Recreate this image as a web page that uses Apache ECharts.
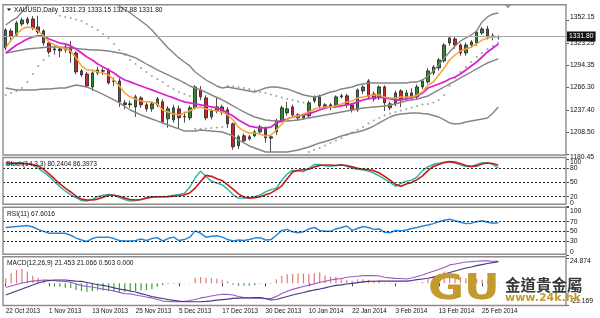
<!DOCTYPE html>
<html><head><meta charset="utf-8">
<script src="https://cdn.jsdelivr.net/npm/echarts@6/dist/echarts.min.js"></script>
<style>html,body{margin:0;padding:0;background:#fff}#c{width:600px;height:318px}</style>
</head><body><div id="c"></div>
<script>
const dates = ['22 Oct 2013','23 Oct 2013','24 Oct 2013','25 Oct 2013','28 Oct 2013','29 Oct 2013','30 Oct 2013','31 Oct 2013',
'1 Nov 2013','4 Nov 2013','5 Nov 2013','6 Nov 2013','7 Nov 2013','8 Nov 2013','11 Nov 2013','12 Nov 2013',
'13 Nov 2013','14 Nov 2013','15 Nov 2013','18 Nov 2013','19 Nov 2013','20 Nov 2013','21 Nov 2013','22 Nov 2013',
'25 Nov 2013','26 Nov 2013','27 Nov 2013','28 Nov 2013','29 Nov 2013','2 Dec 2013','3 Dec 2013','4 Dec 2013',
'5 Dec 2013','6 Dec 2013','9 Dec 2013','10 Dec 2013','11 Dec 2013','12 Dec 2013','13 Dec 2013','16 Dec 2013',
'17 Dec 2013','18 Dec 2013','19 Dec 2013','20 Dec 2013','23 Dec 2013','24 Dec 2013','26 Dec 2013','27 Dec 2013',
'30 Dec 2013','31 Dec 2013','2 Jan 2014','3 Jan 2014','6 Jan 2014','7 Jan 2014','8 Jan 2014','9 Jan 2014',
'10 Jan 2014','13 Jan 2014','14 Jan 2014','15 Jan 2014','16 Jan 2014','17 Jan 2014','20 Jan 2014','21 Jan 2014',
'22 Jan 2014','23 Jan 2014','24 Jan 2014','27 Jan 2014','28 Jan 2014','29 Jan 2014','30 Jan 2014','31 Jan 2014',
'3 Feb 2014','4 Feb 2014','5 Feb 2014','6 Feb 2014','7 Feb 2014','10 Feb 2014','11 Feb 2014','12 Feb 2014',
'13 Feb 2014','14 Feb 2014','17 Feb 2014','18 Feb 2014','19 Feb 2014','20 Feb 2014','21 Feb 2014','24 Feb 2014',
'25 Feb 2014','26 Feb 2014','27 Feb 2014','28 Feb 2014'];

const opens = [1317.1,1338.9,1333.8,1347.9,1349.2,1354.3,1344.1,1338.9,
1323.5,1314.5,1315.8,1314.5,1318.4,1310.6,1287.5,1283.6,
1266.9,1284.9,1288.0,1288.8,1274.0,1274.6,1246.4,1244.0,
1241.2,1252.8,1243.8,1238.7,1243.8,1247.7,1225.8,1224.5,
1238.7,1229.0,1227.1,1240.0,1263.1,1252.8,1228.4,1236.1,
1241.2,1237.4,1219.4,1191.1,1204.0,1200.1,1204.0,1209.1,
1214.3,1201.0,1209.1,1223.3,1233.5,1241.2,1231.0,1227.1,
1229.7,1248.9,1254.1,1243.8,1241.2,1242.5,1254.1,1255.4,
1243.8,1237.4,1261.8,1274.6,1257.9,1252.8,1266.9,1245.1,
1245.1,1261.8,1252.8,1259.2,1254.1,1266.9,1273.4,1284.9,
1291.4,1300.4,1323.5,1328.6,1320.9,1310.6,1320.9,1323.5,
1336.3,1341.5,1332.5,1331.23];
const closes = [1340.2,1332.5,1349.2,1353.0,1354.3,1342.8,1337.6,1323.5,
1311.9,1315.8,1313.5,1318.4,1310.6,1286.2,1282.4,1268.2,
1284.9,1288.8,1287.2,1272.1,1274.6,1247.7,1244.0,1245.1,
1254.1,1243.8,1238.7,1245.1,1251.5,1222.0,1238.7,1240.0,
1227.1,1228.4,1240.0,1266.9,1254.1,1227.1,1236.1,1241.2,
1234.8,1219.4,1189.9,1202.7,1197.6,1202.7,1209.1,1215.5,
1201.4,1202.7,1223.3,1240.0,1238.7,1231.0,1227.1,1231.0,
1246.4,1254.1,1242.5,1241.2,1243.8,1254.1,1255.4,1243.8,
1237.4,1263.1,1266.9,1254.1,1251.5,1266.9,1246.4,1240.0,
1259.2,1250.2,1259.2,1252.8,1266.9,1274.6,1287.5,1292.6,
1301.7,1320.9,1329.9,1320.9,1310.6,1320.9,1324.8,1337.6,
1341.5,1331.2,1331.8,1331.80];
const lows = [1314,1325,1331,1345,1347,1340,1335,1320,
1309,1310,1305,1311,1297.8,1283,1280,1266,
1262,1282,1282,1270,1268,1241.2,1238,1240,
1228.4,1240,1235,1235,1241,1219.4,1214.3,1221,
1213,1221,1224,1238,1250,1224,1225,1233,
1231,1214,1186,1187,1195,1198,1202,1207,
1195,1183.4,1205,1221,1230,1228,1224,1225,
1227,1246,1239,1238,1237,1240,1252,1240,
1234,1235,1258,1251,1248,1250,1236,1237,
1242,1241,1249,1250,1251,1264,1271,1282,
1288,1298,1320,1316,1307,1307,1317,1320,
1334,1328,1327,1327.88];
const highs = [1342.5,1342,1352,1356,1357,1358,1358.5,1341,
1325,1320,1318,1321,1326,1313,1290,1286,
1287,1293,1291,1291,1279,1278,1250,1249,
1257,1255,1247,1248,1254,1251,1242,1244,
1243,1235,1243,1269,1268,1256,1239,1252.8,
1244,1241,1221,1205,1207,1205,1212,1218,
1216,1205,1226,1243,1247.7,1244,1233,1233,
1249,1256,1257,1246,1246,1256,1258,1258,
1246,1265,1269,1277,1261,1269,1269,1248,
1262,1264,1263,1265,1270,1277,1291,1295,
1304,1323,1332.5,1332,1323,1324,1327,1340,
1344,1345.3,1336,1333.15];

const maFast = [1317.0,1327.3,1335.0,1341.5,1344.0,1342.8,1338.9,1332.5,
1324.7,1320.9,1318.3,1315.7,1313.2,1304.2,1293.9,1288.7,
1288.7,1286.1,1284.8,1282.3,1275.8,1268.1,1259.1,1253.9,
1251.4,1248.9,1247.6,1247.6,1245.0,1237.2,1234.7,1232.1,
1230.8,1233.4,1235.9,1239.8,1241.1,1238.5,1237.2,1235.9,
1234.7,1230.8,1224.4,1215.3,1210.2,1207.6,1207.6,1206.3,
1203.8,1205.0,1211.5,1219.2,1225.6,1228.2,1229.5,1232.1,
1234.7,1238.5,1239.8,1241.1,1241.1,1242.4,1245.0,1247.6,
1248.9,1252.7,1253.9,1255.2,1256.5,1256.5,1253.9,1252.7,
1252.7,1253.9,1253.9,1253.9,1256.5,1260.4,1269.4,1273.3,
1282.3,1291.3,1301.6,1308.0,1313.2,1315.7,1318.3,1322.2,
1327.3,1329.9,1331.2,1331.2];
const maSlow = [1310.6,1315.7,1320.9,1324.7,1328.6,1331.2,1332.5,1332.5,
1328.6,1326.0,1323.4,1322.2,1319.6,1315.7,1310.6,1305.4,
1301.6,1296.4,1292.6,1288.7,1284.8,1279.7,1275.8,1273.3,
1270.7,1268.1,1265.5,1263.0,1260.4,1257.8,1255.2,1252.7,
1250.1,1247.6,1246.3,1245.0,1243.7,1242.4,1241.1,1239.8,
1237.2,1233.4,1229.5,1224.4,1220.5,1216.6,1215.3,1214.1,
1214.1,1215.3,1220.5,1223.1,1225.6,1228.2,1229.5,1230.8,
1232.1,1234.7,1237.2,1239.8,1241.1,1241.1,1242.4,1243.7,
1245.0,1247.6,1250.1,1251.4,1252.7,1253.9,1252.7,1251.4,
1250.1,1250.1,1251.4,1252.7,1255.2,1259.1,1265.5,1268.1,
1270.7,1273.3,1277.1,1279.7,1283.6,1288.7,1293.9,1299.0,
1305.4,1311.9,1317.0,1322.2];
const bbUpper = [1346.6,1351.8,1355.6,1363.3,1371.1,1376.2,1381.4,1383.9,
1385.2,1386.5,1386.5,1386.5,1386.5,1385.2,1383.9,1382.7,
1381.4,1380.1,1378.8,1377.5,1374.9,1371.1,1365.9,1362.1,
1356.9,1351.8,1346.6,1340.2,1332.5,1324.7,1317.0,1310.6,
1304.2,1299.0,1293.9,1286.1,1281.0,1275.8,1272.0,1268.1,
1265.5,1266.8,1265.5,1264.3,1263.0,1261.7,1260.4,1263.0,
1265.5,1266.8,1266.8,1265.5,1264.3,1261.7,1259.1,1256.5,
1255.2,1253.9,1255.2,1257.8,1260.4,1261.7,1264.3,1265.5,
1266.8,1269.4,1270.7,1272.0,1272.0,1272.0,1272.0,1272.0,
1272.0,1272.0,1272.0,1273.3,1273.3,1275.8,1281.0,1287.4,
1295.1,1304.2,1311.9,1319.6,1326.0,1329.9,1333.7,1338.9,
1350.5,1356.9,1360.8,1362.1];
const bbMiddle = [1310.6,1311.9,1313.2,1314.4,1315.7,1316.4,1317.0,1317.7,
1318.3,1318.3,1318.3,1317.7,1317.0,1316.4,1315.7,1315.1,
1314.4,1314.4,1313.8,1313.2,1311.9,1310.6,1309.3,1306.7,
1304.2,1300.3,1296.4,1292.6,1288.7,1285.5,1282.3,1279.0,
1275.8,1272.0,1268.1,1265.5,1263.0,1259.8,1256.5,1253.3,
1250.1,1246.3,1242.4,1238.5,1234.7,1231.4,1228.2,1226.3,
1224.4,1223.7,1223.1,1223.1,1223.1,1223.7,1224.4,1225.6,
1226.9,1228.2,1229.5,1230.8,1232.1,1233.4,1234.7,1235.9,
1237.2,1238.5,1239.8,1240.4,1241.1,1241.7,1242.4,1243.7,
1245.0,1246.9,1248.9,1250.1,1251.4,1253.3,1255.2,1259.1,
1263.0,1266.8,1270.7,1274.5,1278.4,1282.3,1286.1,1290.0,
1293.9,1297.7,1300.3,1302.9];
const bbLower = [1265.5,1264.3,1263.0,1263.0,1263.0,1263.0,1263.6,1264.3,
1264.3,1264.9,1265.5,1265.5,1267.5,1269.4,1268.1,1266.8,
1263.6,1260.4,1257.2,1253.9,1250.1,1246.3,1241.7,1237.2,
1234.0,1230.8,1228.2,1225.6,1223.1,1220.5,1217.9,1215.3,
1212.8,1210.2,1210.2,1210.2,1211.5,1210.8,1210.2,1209.6,
1208.9,1206.3,1203.8,1198.6,1194.8,1190.9,1188.3,1185.7,
1183.2,1183.2,1183.2,1183.2,1183.2,1184.5,1185.7,1187.7,
1189.6,1192.2,1194.8,1196.7,1198.6,1201.2,1203.8,1205.7,
1207.6,1208.9,1210.8,1213.4,1216.6,1220.5,1224.4,1228.2,
1230.8,1232.1,1232.7,1233.4,1233.4,1232.7,1232.1,1230.1,
1228.2,1224.4,1220.5,1219.2,1219.8,1221.8,1223.1,1224.4,
1225.6,1226.9,1233.4,1241.1];
const sar = [1256.5,1259.1,1261.7,1265.5,1273.3,1283.6,1293.9,1301.6,
1306.7,1309.3,1358.5,1356.9,1355.6,1353.7,1351.8,1347.9,
1344.0,1340.2,1335.0,1329.9,1322.2,1314.4,1308.0,1301.6,
1296.4,1291.3,1286.1,1281.0,1277.1,1273.3,1268.1,1264.3,
1260.4,1257.8,1255.2,1212.8,1212.8,1213.4,1214.1,1214.7,
1215.3,1268.1,1267.5,1266.8,1265.5,1264.3,1262.3,1260.4,
1259.1,1257.2,1255.2,1253.3,1251.4,1250.1,1248.2,1246.9,
1183.2,1185.7,1188.3,1191.5,1194.8,1198.0,1201.2,1205.0,
1208.3,1211.5,1215.3,1219.8,1223.7,1226.9,1230.1,1232.7,
1234.7,1236.6,1238.5,1240.4,1242.4,1244.3,1245.0,1246.9,
1250.1,1256.5,1268.1,1278.4,1286.1,1292.6,1299.0,1305.4,
1310.6,1315.7,1319.6,1323.4];

const stochMain = [87,89,90,90.5,90,87,80,72,63,52,41,32,24,18,12,11,
15,20,23,25,23,18,14,11,12,14,18,20,20,20,21,23,
25,27,40,60,74,62,53,49,45,36,24,17,17,18,20,24,
30,35,38,55,68,76,74,73,80,88,88,85,84,86,88,84,
80,78,77,74,70,64,57,50,42,48,53,55,62,75,83,88,
91,93,93,91,87,84,83,88,92,92,88,80.24];
const stochSignal = [91,91,90,90,89,88,85,78,68,58,47,38,30,21,15,13,
13,15,19,23,23,21,17,14,13,14,17,19,20,20,20,21,
22,24,28,38,52,65,63,58,54,45,36,26,19,17,18,20,
24,28,35,43,58,72,76,77,78,83,86,87,87,86,87,86,
83,80,78,77,75,70,63,55,46,42,47,50,56,64,75,84,
88,92,94,93,90,86,84,85,89,91,90,86.40];
const rsi = [58,59,60,61,62,59,54,50,46,46,46,46,42,36,32,29,
35,38,38,38,35,31,30,30,31,34,31,35,37,30,35,38,
31,33,38,51,46,38,40,41,38,33,30,32,31,33,36,37,
32,33,42,52,54,49,47,49,55,58,52,50,50,55,58,61,
52,56,60,58,54,55,48,47,52,51,53,56,58,61,63,66,
70,73,75,72,69,66,67,70,72,69,67,67.60];
const macdHist = [4.9,9.8,13,14,11.3,7.4,5.5,2.2,-0.5,-3.3,-3.3,-4.3,-4.5,-6.5,-7.5,-8.2,
-7.5,-7,-7,-7.5,-8.2,-8.5,-8.2,-8,-7.5,-7,-6.5,-5.5,-3.3,-2,-0.8,-0.5,
-0.5,-0.3,0.3,5.5,6,5.5,5,4.5,3.5,2,-1.5,-2.5,-2.5,-2.5,-1.8,-0.5,
-0.5,-0.5,3.9,7.4,8.8,9.4,9.5,9.5,9,9.8,10.7,7.5,6.5,6.5,4.9,3.5,
2.5,4,4,3.5,2.5,2.5,0.5,-0.3,0.3,-0.3,0.3,-0.3,0.5,1.3,4,7,
9,11.3,9,7.5,6,5,4,4.5,3.5,2,1.5,0.503];
const macdMain = [-4.1,-2.6,-1.2,0.3,1.3,2.2,2.7,3.2,3.0,2.6,2.2,1.8,1.0,-0.7,-2.1,-3.1,
-3.6,-4.6,-5.6,-6.5,-7.5,-8.8,-10.0,-10.4,-11.4,-12.4,-13.4,-14.3,-15.8,-17.3,-17.6,-18.0,
-18.0,-17.6,-16.8,-15.8,-14.3,-13.4,-12.4,-11.4,-10.7,-10.9,-11.4,-12.9,-13.9,-14.6,-14.6,-14.6,
-15.0,-15.0,-12.8,-10.0,-7.8,-5.9,-4.4,-3.1,-1.8,-0.5,1.0,2.0,3.2,4.0,4.7,5.9,
6.4,6.9,7.4,7.4,7.4,7.1,5.9,5.2,4.9,4.7,4.2,5.2,6.6,8.1,10.0,11.8,
13.5,15.4,17.9,18.8,19.8,20.8,21.1,21.5,21.8,21.8,21.5,21.453];
const macdSignal = [-11.4,-9.5,-7.5,-5.6,-3.6,-1.7,0.3,1.8,2.7,3.2,3.2,3.2,2.7,2.2,1.8,0.8,
-0.2,-1.4,-2.1,-3.1,-4.4,-5.6,-6.5,-7.5,-8.5,-10.0,-11.4,-12.9,-13.9,-14.8,-15.8,-16.6,
-17.3,-17.8,-18.0,-18.0,-18.0,-17.6,-17.1,-16.5,-16.0,-15.5,-14.8,-14.5,-14.3,-14.1,-14.0,-14.0,
-14.8,-16.3,-15.8,-14.3,-12.9,-11.4,-10.2,-9.0,-7.7,-6.5,-5.6,-4.4,-3.1,-2.1,-1.5,-0.7,
0,0.6,1.3,1.8,2.0,2.2,2.2,2.2,2.2,2.2,2.2,2.7,3.5,4.2,4.9,6.1,
7.6,9.1,10.5,12.0,13.5,14.9,15.9,17.2,18.3,19.3,20.1,21.066];

const priceTicks = [1352.15,1323.25,1294.35,1266.30,1237.40,1208.50,1180.45];
const stochTicks = [20,50,80];
const stochEndTicks = [0,100];
const stochLevels = [20,50,80];
const rsiTicks = [0,30,50,70,100];
const rsiLevels = [30,50,70];
const macdTicks = [-21.169,24.874];
const lastPrice = 1331.80;
const dateLabelStep = 8;

const titleMain = 'XAUUSD,Daily  1331.23 1333.15 1327.88 1331.80';
const titleStoch = 'Stoch(14,3,3) 80.2404 86.3973';
const titleRsi = 'RSI(11) 67.6016';
const titleMacd = 'MACD(12,26,9) 21.453 21.066 0.503 0.000';

const shiftBars = 12;
const cats = dates.concat(Array.from({length: shiftBars}, (_, k) => 'shift' + k));
const candleData = opens.map((o, i) => [o, closes[i], lows[i], highs[i]]);

const FONT = 'Liberation Sans';
const L = 3, R = 34;
const panels = [
  {top: 4.7, h: 150.3},
  {top: 158.8, h: 47.4},
  {top: 207.2, h: 48.3},
  {top: 256.7, h: 48.8}
];
const frames = [[3,4.7,563,150.3],[3,157.5,563,46.8],[3,207.3,563,47],[3,256.7,563,48.8]];
const showDate = (idx) => idx % dateLabelStep === 0 && idx < dates.length;

function levelLine(levels){
  return {silent:true, symbol:'none', animation:false,
    lineStyle:{color:'#222', type:[2,2], width:1},
    label:{show:false},
    data: levels.map(v => ({yAxis: v}))};
}
function valAxis(gi, min, max, ticks, fmt){
  return {type:'value', gridIndex:gi, position:'right', offset:0, min, max,
    axisLine:{show:false}, splitLine:{show:false},
    axisTick:{show:true, customValues:ticks, length:3, lineStyle:{color:'#555'}},
    axisLabel:{customValues:ticks, formatter:fmt, fontSize:6.8, margin:4, color:'#111', fontFamily:FONT,
      hideOverlap:false, showMinLabel:true, showMaxLabel:true,
      verticalAlignMinLabel:'bottom', verticalAlignMaxLabel:'top'}};
}

const chart = echarts.init(document.getElementById('c'), null, {renderer:'canvas', width:600, height:318});
const option = {
  animation:false,
  backgroundColor:'#ffffff',
  textStyle:{fontFamily:FONT},
  grid: panels.map(p => ({left:L, right:R, top:p.top, height:p.h, containLabel:false, outerBoundsMode:'none'})),
  xAxis: panels.map((p, i) => ({
    type:'category', gridIndex:i, data:cats, boundaryGap:true,
    axisLine:{show:false}, splitLine:{show:false},
    axisTick:{show:i===3, interval:showDate, alignWithLabel:true, length:3, lineStyle:{color:'#444'}},
    axisLabel:{show:i===3, interval:showDate, align:'left', margin:2.5, fontSize:6.3, color:'#111', fontFamily:FONT}
  })),
  yAxis: [
    valAxis(0, 1179.3, 1372.7, priceTicks, v => v.toFixed(2)),
    Object.assign(valAxis(1, 0, 100, stochTicks, v => String(v)), {axisLabel:Object.assign(valAxis(1,0,100,stochTicks,v=>String(v)).axisLabel, {verticalAlignMinLabel:'middle', verticalAlignMaxLabel:'middle'})}),
    valAxis(2, 0, 100, rsiTicks, v => String(v)),
    valAxis(3, -21.66, 25.95, macdTicks, v => v.toFixed(3)),
    valAxis(1, 0, 100, stochEndTicks, v => String(v))
  ],
  series: [
    {type:'candlestick', name:'XAUUSD', xAxisIndex:0, yAxisIndex:0, data:candleData, barWidth:3,
      itemStyle:{color:'#2a8a32', color0:'#c8262b', borderColor:'#1f1f1f', borderColor0:'#1f1f1f', borderWidth:0.8},
      markLine:{silent:true, symbol:'none', animation:false,
        lineStyle:{color:'#a8a8a8', type:'solid', width:1},
        label:{show:true, position:'end', distance:1, formatter:() => lastPrice.toFixed(2),
          color:'#fff', backgroundColor:'#111', padding:[2,2,1,2], fontSize:6.8, fontFamily:FONT},
        data:[{yAxis:lastPrice}]}},
    {type:'line', name:'BB upper', xAxisIndex:0, yAxisIndex:0, data:bbUpper, symbol:'none', lineStyle:{color:'#858585', width:1.4}},
    {type:'line', name:'BB middle', xAxisIndex:0, yAxisIndex:0, data:bbMiddle, symbol:'none', lineStyle:{color:'#858585', width:1.4}},
    {type:'line', name:'BB lower', xAxisIndex:0, yAxisIndex:0, data:bbLower, symbol:'none', lineStyle:{color:'#858585', width:1.4}},
    {type:'scatter', name:'SAR', xAxisIndex:0, yAxisIndex:0, data:sar, symbol:'circle', symbolSize:2, itemStyle:{color:'#8a8a8a'}},
    {type:'line', name:'MA slow', xAxisIndex:0, yAxisIndex:0, data:maSlow, symbol:'none', lineStyle:{color:'#dd22d0', width:1.8}},
    {type:'line', name:'MA fast', xAxisIndex:0, yAxisIndex:0, data:maFast, symbol:'none', lineStyle:{color:'#f2a43a', width:1.5}},

    {type:'line', name:'Stoch main', xAxisIndex:1, yAxisIndex:1, data:stochMain, symbol:'none', lineStyle:{color:'#27b3a3', width:1.4},
      markLine: levelLine(stochLevels)},
    {type:'line', name:'Stoch signal', xAxisIndex:1, yAxisIndex:1, data:stochSignal, symbol:'none', lineStyle:{color:'#cc1a1a', width:1.6}},

    {type:'line', name:'RSI', xAxisIndex:2, yAxisIndex:2, data:rsi, symbol:'none', lineStyle:{color:'#2a86d6', width:1.5},
      markLine: levelLine(rsiLevels)},

    {type:'bar', name:'MACD hist', xAxisIndex:3, yAxisIndex:3, data:macdHist, barWidth:1.2,
      itemStyle:{color: p => p.value >= 0 ? '#e07b7b' : '#3f9e3f'}},
    {type:'line', name:'MACD', xAxisIndex:3, yAxisIndex:3, data:macdMain, symbol:'none', lineStyle:{color:'#a25ac8', width:1.2}},
    {type:'line', name:'Signal', xAxisIndex:3, yAxisIndex:3, data:macdSignal, symbol:'none', lineStyle:{color:'#3e3c82', width:1.2}}
  ],
  graphic: [
    ...frames.map(f => ({type:'rect', silent:true, z:50, shape:{x:f[0], y:f[1], width:f[2], height:f[3]},
      style:{fill:'none', stroke:'#8c8c8c', lineWidth:1.4}})),
    {type:'polygon', silent:true, z:51, shape:{points:[[7,8.5],[11,8.5],[9,11]]}, style:{fill:'#111'}},
    {type:'polygon', silent:true, z:51, shape:{points:[[505,5],[511,5],[508,8.5]]}, style:{fill:'#9a9a9a'}},
    {type:'text', silent:true, z:52, x:14, y:10, style:{text:titleMain, fontSize:6.6, fill:'#111', fontFamily:FONT, verticalAlign:'middle'}},
    {type:'text', silent:true, z:52, x:6, y:164.5, style:{text:titleStoch, fontSize:6.6, fill:'#111', fontFamily:FONT, verticalAlign:'middle'}},
    {type:'text', silent:true, z:52, x:7, y:213.8, style:{text:titleRsi, fontSize:6.6, fill:'#111', fontFamily:FONT, verticalAlign:'middle'}},
    {type:'text', silent:true, z:52, x:7, y:263.3, style:{text:titleMacd, fontSize:6.6, fill:'#111', fontFamily:FONT, verticalAlign:'middle'}},
    {type:'text', silent:true, z:60, x:428, y:290, scaleX:1.22, style:{text:'GU', fontSize:36, fontWeight:'bold', fill:'#c39a2e', fontFamily:'DejaVu Sans', verticalAlign:'middle'}},
    {type:'text', silent:true, z:60, x:505, y:285, style:{text:'金道貴金屬', fontSize:15.5, fontWeight:'bold', fill:'#3a3a3a', fontFamily:'Noto Sans CJK TC', verticalAlign:'middle'}},
    {type:'text', silent:true, z:60, x:505, y:298, style:{text:'www.24k.hk', fontSize:11, fontWeight:'bold', fill:'#c39a2e', fontFamily:'DejaVu Sans', verticalAlign:'middle'}}
  ]
};
chart.setOption(option);
</script>
</body></html>
